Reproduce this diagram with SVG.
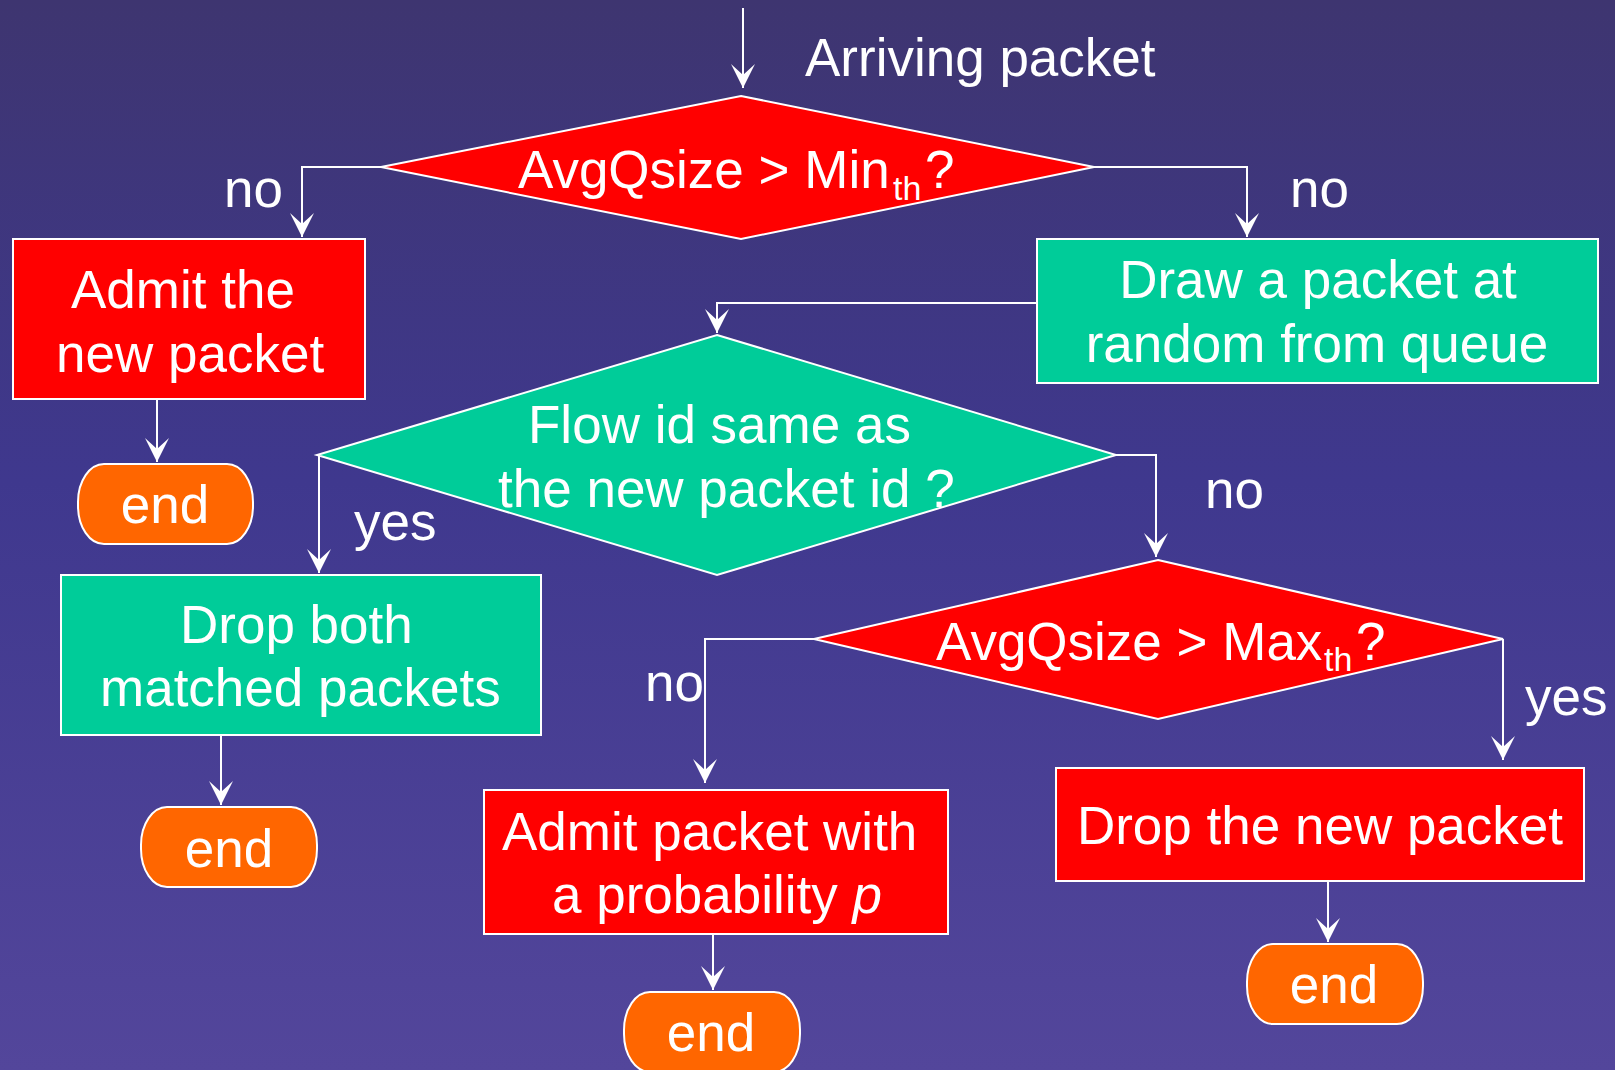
<svg xmlns="http://www.w3.org/2000/svg" width="1615" height="1070" viewBox="0 0 1615 1070">
  <defs>
    <linearGradient id="bg" x1="0" y1="0" x2="0" y2="1">
      <stop offset="0" stop-color="#3e3570"/>
      <stop offset="0.45" stop-color="#3f388e"/>
      <stop offset="1" stop-color="#53469b"/>
    </linearGradient>
    <marker id="arrow" viewBox="0 0 24 24" refX="24" refY="12" markerWidth="24" markerHeight="24" markerUnits="userSpaceOnUse" orient="auto">
      <path d="M0,0 L24,12 L0,24 L11,12 Z" fill="#ffffff"/>
    </marker>
    <style>
      .red { fill: #ff0000; stroke: #ffffff; stroke-width: 2; }
      .green { fill: #00cc99; stroke: #ffffff; stroke-width: 2; }
      .term { fill: #ff6600; stroke: #ffffff; stroke-width: 2; }
      .lbl { font-family: "Liberation Sans", Arial, Helvetica, sans-serif; font-size: 53px; fill: #ffffff; }
      .mid { text-anchor: middle; }
      .sub { font-size: 34px; }
      .edge { fill: none; stroke: #ffffff; stroke-width: 2; marker-end: url(#arrow); }
    </style>
  </defs>

  <rect x="0" y="0" width="1615" height="1070" fill="url(#bg)"/>

  <!-- connectors -->
  <g id="connectors">
    <path class="edge" d="M743,8 V88"/>
    <path class="edge" d="M381,167 H302 V237"/>
    <path class="edge" d="M1094,167 H1247 V237"/>
    <path class="edge" d="M1037,303 H717 V333"/>
    <path class="edge" d="M157,400 V462"/>
    <path class="edge" d="M317,455 H319 V573"/>
    <path class="edge" d="M1116,455 H1156 V557"/>
    <path class="edge" d="M221,736 V805"/>
    <path class="edge" d="M814,639 H705 V783"/>
    <path class="edge" d="M1503,639 V760"/>
    <path class="edge" d="M713,927 V990"/>
    <path class="edge" d="M1328,881 V942"/>
    <text class="lbl" x="805" y="76">Arriving packet</text>
    <text class="lbl" x="224" y="207">no</text>
    <text class="lbl" x="1290" y="207">no</text>
    <text class="lbl" x="354" y="540">yes</text>
    <text class="lbl" x="1205" y="508">no</text>
    <text class="lbl" x="645" y="701">no</text>
    <text class="lbl" x="1525" y="715">yes</text>
  </g>

  <!-- decision: average queue above minimum threshold -->
  <g id="decision-min">
    <polygon class="red" points="741,96 1094,167 741,239 381,167"/>
    <text class="lbl" y="188"><tspan x="518">AvgQsize &gt; Min</tspan><tspan class="sub" x="893" y="200">th</tspan><tspan x="925" y="188">?</tspan></text>
  </g>

  <g id="admit-new">
    <rect class="red" x="13" y="239" width="352" height="160"/>
    <text class="lbl" x="71" y="308">Admit the</text>
    <text class="lbl" x="56" y="372">new packet</text>
  </g>

  <g id="end-1">
    <rect class="term" x="78" y="464" width="175" height="80" rx="26" ry="38"/>
    <text class="lbl mid" x="165" y="523">end</text>
  </g>

  <g id="draw-random">
    <rect class="green" x="1037" y="239" width="561" height="144"/>
    <text class="lbl mid" x="1318" y="298">Draw a packet at</text>
    <text class="lbl mid" x="1317" y="362">random from queue</text>
  </g>

  <g id="decision-flow">
    <polygon class="green" points="717,335 1116,455 717,575 317,455"/>
    <text class="lbl" x="528" y="443">Flow id same as</text>
    <text class="lbl" x="498" y="507">the new packet id ?</text>
  </g>

  <g id="drop-both">
    <rect class="green" x="61" y="575" width="480" height="160"/>
    <text class="lbl" x="180" y="643">Drop both</text>
    <text class="lbl" x="100" y="706">matched packets</text>
  </g>

  <g id="end-2">
    <rect class="term" x="141" y="807" width="176" height="80" rx="26" ry="38"/>
    <text class="lbl mid" x="229" y="867">end</text>
  </g>

  <!-- decision: average queue above maximum threshold -->
  <g id="decision-max">
    <polygon class="red" points="1158,560 1503,639 1158,719 814,639"/>
    <text class="lbl" y="660"><tspan x="936">AvgQsize &gt; Max</tspan><tspan class="sub" x="1324" y="671">th</tspan><tspan x="1356" y="660">?</tspan></text>
  </g>

  <g id="admit-prob">
    <rect class="red" x="484" y="790" width="464" height="144"/>
    <text class="lbl" x="502" y="850">Admit packet with</text>
    <text class="lbl" x="552" y="913">a probability <tspan font-style="italic">p</tspan></text>
  </g>

  <g id="end-3">
    <rect class="term" x="624" y="992" width="176" height="80" rx="26" ry="38"/>
    <text class="lbl mid" x="711" y="1051">end</text>
  </g>

  <g id="drop-new">
    <rect class="red" x="1056" y="768" width="528" height="113"/>
    <text class="lbl mid" x="1320" y="844">Drop the new packet</text>
  </g>

  <g id="end-4">
    <rect class="term" x="1247" y="944" width="176" height="80" rx="26" ry="38"/>
    <text class="lbl mid" x="1334" y="1003">end</text>
  </g>
</svg>
